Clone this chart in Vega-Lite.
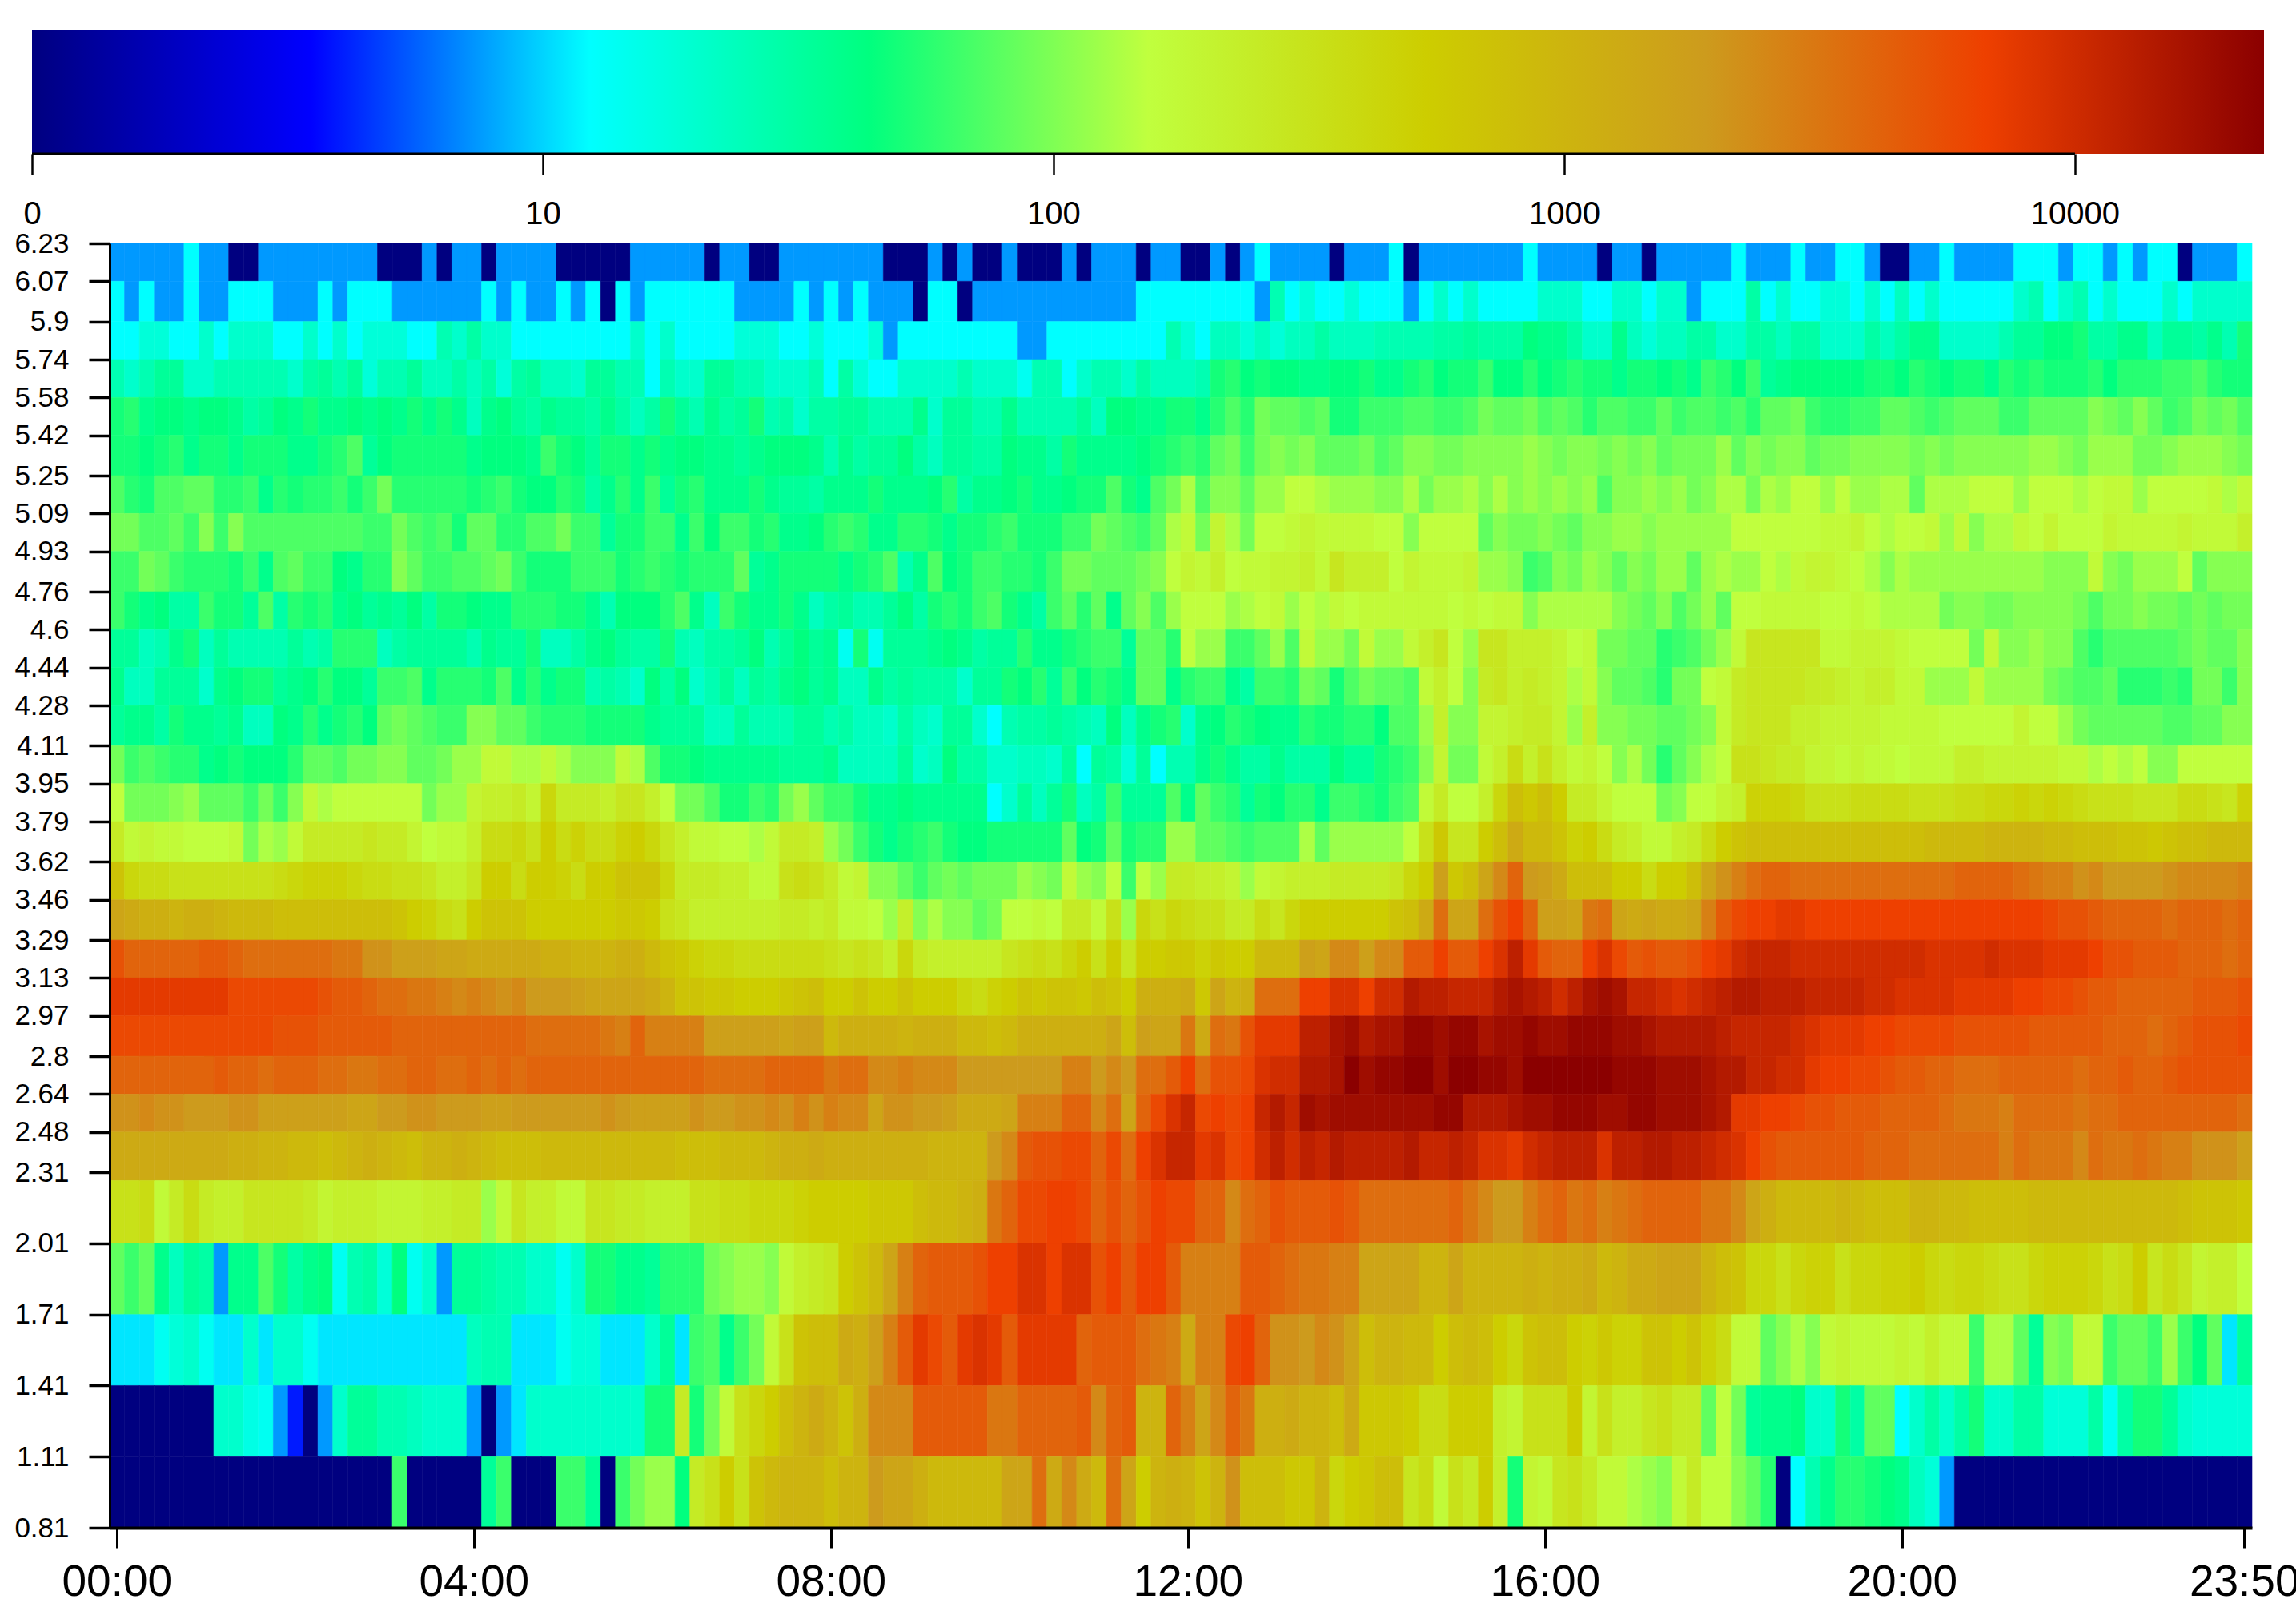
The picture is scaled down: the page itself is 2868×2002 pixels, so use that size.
{"$schema":"https://vega.github.io/schema/vega-lite/v6.json","width":2676,"height":1604,"autosize":"none","padding":{"left":137,"top":304,"right":55,"bottom":94},"background":"white","config":{"view":{"stroke":null}},"resolve":{"scale":{"x":"independent","y":"independent"},"axis":{"x":"independent","y":"independent"}},"layer":[{"data":{"values":[
{"lo":6.07,"hi":6.23,"level":[16,16,16,16,16,20,16,16,0,0,16,16,16,16,16,16,16,16,0,0,0,16,0,16,16,0,16,16,16,16,0,0,0,0,0,16,16,16,16,16,0,16,16,0,0,16,16,16,16,16,16,16,0,0,0,16,0,16,0,0,16,0,0,0,16,0,16,16,16,0,16,16,0,0,16,0,16,20,16,16,16,16,0,16,16,16,20,0,16,16,16,16,16,16,16,20,16,16,16,16,0,16,16,0,16,16,16,16,16,20,16,16,16,20,16,16,20,20,16,0,0,16,16,20,16,16,16,16,20,20,20,16,20,20,16,20,16,20,20,0,16,16,16,20]},
{"lo":5.9,"hi":6.07,"level":[20,16,20,16,16,20,16,16,20,20,20,16,16,16,20,16,20,20,20,16,16,16,16,16,16,20,16,20,16,16,20,16,20,0,20,16,20,20,20,20,20,20,16,16,16,16,20,16,20,16,20,16,16,16,0,20,20,0,16,16,16,16,16,16,16,16,16,16,16,20,20,20,20,20,20,20,20,16,26,20,23,20,20,23,20,20,20,16,20,24,20,24,20,20,20,20,24,24,24,20,20,24,24,20,24,24,16,20,20,20,27,20,24,20,20,23,23,20,24,20,25,20,24,20,20,20,20,20,24,26,20,24,26,20,24,20,20,20,24,20,24,24,24,24]},
{"lo":5.74,"hi":5.9,"level":[20,20,23,23,20,20,24,20,24,24,24,20,20,24,20,24,20,23,23,23,20,20,26,24,27,24,24,20,20,20,20,20,20,20,20,24,20,24,20,20,20,20,23,23,23,20,20,23,20,20,20,23,16,20,20,20,20,20,20,20,20,16,16,20,20,20,20,20,20,20,20,26,23,20,25,25,23,25,23,25,25,27,25,25,25,26,26,26,26,27,27,28,27,27,27,30,29,29,27,24,24,29,25,23,25,25,27,27,24,24,27,27,25,27,27,24,24,24,27,25,27,29,29,24,24,24,24,26,28,28,30,30,31,27,27,29,29,25,28,28,27,29,26,31]},
{"lo":5.58,"hi":5.74,"level":[26,24,26,28,28,24,24,26,26,26,26,26,24,27,28,26,28,23,26,26,28,25,25,27,25,27,23,27,28,25,25,24,28,28,26,26,20,26,24,24,28,28,26,26,24,24,24,26,20,27,23,20,20,24,24,24,24,26,24,24,24,21,26,26,20,24,26,26,24,27,25,25,25,26,31,32,30,31,30,30,29,29,30,30,31,29,29,31,32,30,31,31,33,30,30,32,30,31,32,31,31,29,31,31,30,31,29,33,32,30,33,28,29,30,30,30,30,30,31,31,30,32,31,30,31,31,29,32,31,32,31,31,31,32,30,32,32,32,33,33,34,32,31,31]},
{"lo":5.42,"hi":5.58,"level":[31,32,29,30,30,29,30,30,29,27,28,30,29,31,29,29,30,29,30,29,31,29,31,29,25,29,30,28,27,29,28,28,27,29,27,25,27,31,28,26,29,27,28,31,26,27,24,27,27,28,28,26,26,26,29,24,28,28,26,26,29,26,26,26,26,28,25,30,30,29,29,31,31,29,32,34,32,36,35,35,34,35,31,31,33,33,33,34,34,33,33,34,36,35,35,36,34,35,34,32,34,34,33,33,35,33,34,34,33,34,32,35,35,36,33,32,32,33,33,35,35,34,33,34,35,35,35,33,33,35,35,35,35,37,36,35,37,35,33,34,36,35,36,34]},
{"lo":5.25,"hi":5.42,"level":[31,31,30,31,32,29,31,31,29,31,31,31,29,29,31,32,34,28,30,31,31,31,31,31,29,30,30,30,29,33,31,30,28,31,31,29,31,29,30,30,29,29,28,29,30,30,30,29,26,29,27,28,28,30,27,25,28,28,27,27,30,29,29,27,31,29,29,29,29,30,31,32,33,32,35,36,33,36,37,36,37,35,35,35,36,34,35,37,37,36,36,37,37,37,37,38,37,36,37,37,36,37,36,37,35,36,36,36,38,35,37,36,37,37,35,36,36,37,37,37,37,36,37,36,37,37,37,37,37,38,38,37,36,38,38,38,36,36,37,38,38,38,37,36]},
{"lo":5.09,"hi":5.25,"level":[34,32,31,34,34,35,35,32,32,33,29,32,31,32,32,33,31,33,36,32,32,32,32,32,31,32,33,31,30,30,32,31,27,29,32,29,33,28,31,32,29,29,29,31,29,28,28,27,29,29,29,31,29,29,29,30,32,27,29,29,30,31,29,29,30,31,31,34,31,29,34,36,39,34,37,37,35,38,38,40,40,39,38,38,38,37,37,39,36,38,38,39,37,39,37,38,37,38,37,38,34,37,37,38,37,38,36,37,39,39,36,39,38,40,40,38,40,38,38,39,39,35,39,39,39,40,40,40,38,40,40,40,39,40,41,41,38,40,40,40,40,41,39,41]},
{"lo":4.93,"hi":5.09,"level":[36,36,34,34,35,33,37,33,37,34,34,34,34,34,34,34,34,33,33,36,34,33,34,31,35,35,32,32,34,34,36,33,33,28,31,31,33,33,29,33,30,33,33,31,32,29,29,30,32,33,32,29,29,32,32,31,29,31,31,32,33,31,31,31,33,33,36,35,34,33,35,39,41,36,42,39,36,40,40,41,42,41,41,41,41,40,40,37,40,40,40,40,35,37,36,36,37,36,35,37,37,38,38,37,38,38,38,38,38,40,40,40,40,40,40,41,41,42,40,39,40,40,41,38,41,37,39,39,41,40,42,40,40,40,42,41,41,41,41,42,41,41,41,43]},
{"lo":4.76,"hi":4.93,"level":[33,33,36,35,33,32,32,32,31,33,29,34,35,33,33,30,29,32,32,37,35,33,33,34,34,35,36,33,31,31,31,33,33,33,31,32,33,32,31,32,32,32,35,28,29,31,31,31,31,29,31,32,34,26,29,34,30,31,33,33,32,32,31,33,36,36,35,35,35,36,37,40,42,41,43,40,41,41,42,42,43,41,45,43,43,43,40,42,41,41,41,42,38,38,37,33,34,37,36,38,37,35,37,36,38,38,35,38,39,38,38,40,39,41,42,42,41,40,39,37,39,38,38,38,38,38,38,38,38,38,37,37,37,41,37,36,38,38,38,40,35,37,37,37]},
{"lo":4.6,"hi":4.76,"level":[33,31,29,30,27,27,33,31,31,28,34,27,32,31,32,29,30,28,29,28,30,27,31,31,30,29,29,32,32,32,31,31,29,26,30,30,30,32,34,29,25,33,31,29,29,31,29,25,27,28,26,26,28,30,27,31,32,31,33,34,31,29,27,33,35,32,35,29,35,37,34,38,40,40,40,38,39,40,41,38,40,39,41,40,41,41,41,41,41,41,40,41,40,41,41,37,39,39,39,39,39,37,36,35,37,34,36,38,35,40,40,41,41,41,41,40,40,41,40,39,39,39,39,36,37,37,36,36,37,37,37,37,36,34,36,36,37,36,36,35,36,35,36,36]},
{"lo":4.44,"hi":4.6,"level":[28,28,25,26,29,31,25,28,26,26,26,26,28,26,27,32,32,32,25,27,28,28,28,28,26,29,28,28,31,25,25,27,29,30,28,27,27,31,26,25,27,27,28,30,26,28,30,28,29,21,31,21,28,28,28,29,30,29,27,28,28,32,29,29,31,32,33,33,28,35,35,32,40,38,38,33,33,35,38,34,41,38,38,36,41,38,38,41,43,45,40,38,45,45,43,43,43,42,40,41,36,36,35,35,32,33,34,36,38,41,45,45,45,45,45,41,41,42,42,42,41,40,40,40,40,36,41,37,37,38,37,37,34,32,34,34,34,34,34,35,36,35,35,37]},
{"lo":4.28,"hi":4.44,"level":[29,25,25,28,28,28,24,29,30,31,31,28,29,30,32,30,30,28,33,33,34,29,32,32,32,31,34,29,32,29,31,31,26,27,26,24,30,27,30,24,26,28,25,28,27,29,30,28,29,25,25,29,27,28,27,27,27,24,28,28,31,30,32,28,33,30,32,31,29,35,35,29,32,33,33,29,27,33,33,32,36,35,31,34,36,35,35,34,41,43,40,37,44,45,43,44,43,42,39,41,37,35,35,34,32,36,36,40,41,44,45,45,45,45,44,44,43,42,43,43,41,41,38,38,38,41,38,38,38,38,36,35,34,34,35,32,32,32,33,32,36,36,33,37]},
{"lo":4.11,"hi":4.28,"level":[28,29,29,27,31,29,29,28,29,25,25,30,29,32,29,31,32,30,35,36,35,34,33,33,37,37,35,35,33,32,32,32,31,31,31,31,29,28,28,28,25,25,28,26,26,26,28,28,26,27,25,25,24,27,25,24,28,28,24,20,26,27,27,28,27,26,25,30,25,29,31,32,24,29,30,32,31,30,29,29,32,31,31,32,32,30,34,34,38,43,37,37,42,42,43,44,44,42,38,43,37,37,36,36,35,35,36,37,41,44,45,45,45,43,43,42,42,42,42,41,41,41,41,40,40,40,40,40,42,40,40,38,36,35,35,35,35,35,34,34,35,35,37,37]},
{"lo":3.95,"hi":4.11,"level":[36,33,34,33,32,32,29,30,31,30,30,30,32,35,35,34,36,36,37,37,35,35,36,38,38,41,41,39,39,41,39,37,37,37,41,39,34,31,31,30,29,29,29,29,29,28,28,28,29,25,25,25,25,28,24,25,30,27,27,24,24,25,25,24,28,20,28,27,23,28,20,26,26,29,31,29,27,27,29,27,27,27,30,28,28,31,32,33,37,42,36,36,41,43,47,43,46,43,41,42,40,37,39,36,32,35,37,39,40,46,46,45,44,44,42,42,41,42,41,41,40,41,41,41,43,43,42,42,42,42,42,41,41,39,40,39,40,37,37,40,40,40,40,40]},
{"lo":3.79,"hi":3.95,"level":[40,36,36,36,37,38,35,35,35,33,36,33,37,41,39,40,40,40,40,40,40,36,38,38,42,43,43,44,42,48,44,44,44,43,45,45,43,40,36,36,34,31,31,33,32,36,38,35,33,33,31,29,29,30,29,29,29,29,29,20,24,28,25,28,31,25,27,33,28,28,28,34,29,35,33,32,28,31,30,32,32,29,33,33,32,31,33,34,41,44,40,40,43,48,53,51,53,50,44,44,42,40,40,40,36,37,40,40,42,43,49,49,49,48,46,46,46,47,47,47,47,46,46,46,47,47,48,48,49,48,49,48,47,46,46,46,45,45,45,47,47,46,45,49]},
{"lo":3.62,"hi":3.79,"level":[44,41,42,41,41,40,40,40,41,36,39,38,41,44,44,44,44,45,44,44,42,40,41,41,43,47,47,48,46,50,47,49,47,47,49,50,48,45,43,41,41,40,40,39,41,44,44,43,38,36,33,31,29,31,32,33,31,30,30,31,31,31,31,31,35,30,31,35,31,32,32,38,38,35,35,34,33,34,34,34,39,35,38,38,38,38,38,40,46,51,45,45,50,53,57,54,54,52,49,50,47,44,43,41,41,43,44,47,50,52,53,53,53,53,53,53,53,53,53,53,53,53,54,54,54,54,55,55,55,55,54,54,53,53,53,52,52,51,52,53,53,54,54,54]},
{"lo":3.46,"hi":3.62,"level":[52,48,47,47,46,46,46,46,46,46,46,47,48,49,49,49,48,47,47,46,46,45,43,43,45,50,50,47,50,50,49,47,50,50,52,52,52,48,44,44,44,43,43,41,41,46,47,46,44,41,42,37,37,35,33,35,36,35,36,36,36,38,37,36,41,38,37,40,33,40,38,44,44,43,43,42,38,41,42,43,43,43,44,44,44,44,45,48,50,59,51,53,58,62,66,60,59,57,53,53,53,50,50,47,50,50,53,58,61,63,65,66,66,65,65,65,65,65,65,65,65,65,65,65,66,66,66,66,65,64,63,63,61,62,60,60,60,60,61,62,62,62,62,63]},
{"lo":3.29,"hi":3.46,"level":[58,57,56,56,55,56,56,55,54,54,54,53,53,53,53,53,53,53,53,52,50,49,47,46,50,52,52,52,50,50,50,50,50,50,51,51,50,46,45,43,43,43,43,43,43,44,44,43,44,41,41,40,38,43,37,39,37,37,35,36,40,40,41,40,44,44,41,46,38,48,46,48,47,46,46,44,44,47,45,48,50,50,50,50,50,50,52,53,57,65,58,58,65,68,70,66,59,59,58,64,65,58,57,58,57,57,58,63,67,69,70,70,71,71,70,70,70,70,70,70,70,70,70,70,70,70,70,70,70,70,69,68,68,67,66,66,66,66,65,66,66,66,65,66]},
{"lo":3.13,"hi":3.29,"level":[68,66,66,66,66,66,67,67,66,65,65,65,65,65,65,64,64,61,61,59,59,59,58,58,57,57,57,57,57,56,56,55,55,55,56,56,54,52,51,49,48,48,47,47,47,47,47,47,46,45,46,45,43,48,44,43,43,43,43,43,45,46,47,46,48,50,46,50,45,50,50,51,51,49,51,50,50,54,54,54,59,58,62,62,59,62,62,67,67,70,67,67,70,72,75,71,67,66,66,70,72,69,67,68,67,67,68,70,71,73,74,74,74,73,73,73,73,73,73,73,73,73,72,72,72,72,73,72,72,72,71,71,71,70,68,68,67,67,67,66,66,66,65,66]},
{"lo":2.97,"hi":3.13,"level":[71,71,71,71,71,71,71,71,69,69,69,69,69,69,68,67,67,66,65,65,64,64,63,62,63,62,61,62,60,60,60,59,58,58,58,58,57,55,52,52,51,51,50,50,50,51,52,53,50,50,52,50,50,52,50,50,50,48,47,49,50,52,51,52,52,51,53,52,50,56,56,56,57,51,58,55,56,65,65,65,70,70,72,72,70,73,73,76,75,75,74,74,74,76,77,76,75,73,75,77,78,77,74,74,73,72,73,74,75,76,76,75,75,75,74,74,74,74,73,73,72,72,72,72,71,71,71,71,70,70,69,69,68,67,67,66,66,66,66,66,67,67,67,68]},
{"lo":2.8,"hi":2.97,"level":[69,69,69,69,69,69,69,69,69,69,69,68,68,68,67,67,67,67,67,66,66,66,66,66,66,66,66,66,65,65,65,65,65,64,63,66,63,63,63,63,59,59,59,59,59,58,59,59,54,56,56,56,56,55,56,56,56,54,54,53,54,56,56,56,56,56,56,58,53,59,58,58,64,57,65,64,68,71,71,71,75,75,77,78,76,77,77,79,79,78,79,79,77,78,78,79,78,78,79,79,79,78,78,77,76,76,76,76,75,74,74,74,74,73,72,71,71,71,70,70,69,69,69,69,68,68,68,68,68,67,67,67,67,67,66,66,66,65,66,67,68,68,68,69]},
{"lo":2.64,"hi":2.8,"level":[66,66,66,66,66,66,66,67,66,66,65,66,66,66,65,65,64,64,65,65,66,66,65,65,66,65,66,65,66,66,66,66,66,66,66,66,66,66,66,66,65,65,65,65,66,66,66,66,64,65,65,62,62,63,62,62,62,60,60,60,60,60,60,60,63,63,60,62,60,65,65,67,70,65,68,68,69,72,73,73,76,76,77,80,78,79,79,80,80,78,80,80,79,79,78,80,80,80,80,80,80,79,79,79,78,78,78,77,76,76,74,74,73,73,71,70,70,69,69,68,67,67,66,66,65,65,65,66,66,66,66,66,65,66,66,67,66,66,67,68,68,68,68,68]},
{"lo":2.48,"hi":2.64,"level":[61,61,62,61,61,60,60,60,61,61,59,59,59,59,59,59,58,58,60,60,61,61,60,60,60,59,59,60,60,60,60,60,60,61,60,59,59,59,59,61,60,60,61,61,62,61,63,61,63,62,62,58,61,61,60,60,59,57,57,57,58,63,63,63,66,66,62,65,58,66,69,72,74,69,70,69,70,74,76,74,78,77,78,78,78,78,78,78,78,79,79,76,76,76,77,78,78,79,79,79,78,78,79,79,78,78,78,77,76,71,71,70,70,69,68,68,67,67,67,66,66,66,66,65,64,64,64,63,65,65,65,65,64,65,65,66,66,66,66,66,66,66,66,65]},
{"lo":2.275,"hi":2.48,"level":[57,57,57,57,57,57,57,57,56,56,55,55,54,54,53,54,55,56,55,54,53,55,55,56,55,54,53,53,53,54,54,54,54,54,54,54,54,54,53,53,53,54,54,54,55,56,56,57,56,56,56,56,56,56,56,55,55,55,55,60,62,67,68,68,69,69,66,69,65,70,72,74,74,71,72,69,70,73,75,73,75,74,76,75,75,75,75,76,74,74,75,74,72,72,71,73,74,75,75,75,72,75,75,76,76,75,75,74,73,72,70,68,67,67,67,67,67,67,66,66,66,65,65,65,65,65,65,63,65,64,64,64,62,65,64,64,65,64,63,63,61,61,61,59]},
{"lo":2.01,"hi":2.275,"level":[46,46,47,41,44,47,44,43,43,45,45,45,45,44,42,43,43,43,42,42,42,43,43,44,44,38,41,45,43,43,41,41,45,45,44,44,43,43,43,46,46,47,47,48,48,48,49,50,50,50,50,51,51,51,53,54,54,55,56,64,66,69,69,70,70,69,66,68,66,68,70,69,69,66,66,62,65,66,68,67,67,67,68,67,65,65,65,65,65,65,66,64,62,60,60,63,65,66,64,65,63,64,65,66,66,66,66,64,64,62,58,56,54,54,54,54,55,54,53,53,53,55,55,54,54,53,53,53,53,54,54,54,54,54,54,54,54,54,54,53,52,52,52,51]},
{"lo":1.71,"hi":2.01,"level":[35,33,35,29,25,28,27,16,29,29,34,31,27,29,30,21,26,27,23,30,21,24,16,28,28,27,26,26,24,24,21,24,31,31,29,29,28,32,32,32,36,37,38,38,37,41,43,44,45,50,52,54,58,63,66,67,67,67,68,70,70,72,72,70,72,72,68,70,67,70,70,67,63,63,63,63,67,67,66,65,64,64,63,63,58,58,58,58,55,55,58,55,55,55,55,56,55,56,56,57,54,55,57,57,58,58,58,55,53,52,48,48,46,48,49,49,46,48,48,49,49,50,48,47,48,48,47,46,46,48,49,49,49,48,46,47,50,45,47,45,42,43,43,40]},
{"lo":1.41,"hi":1.71,"level":[19,19,19,21,23,24,21,19,19,24,19,24,24,21,19,19,19,19,19,19,19,19,19,19,25,26,26,19,19,19,21,23,23,19,19,19,24,28,19,33,34,29,33,36,41,46,52,53,53,57,56,59,63,67,71,69,67,71,72,71,67,71,71,71,71,66,67,67,67,65,64,63,57,63,63,69,70,66,61,61,60,62,61,58,53,55,55,54,54,50,53,54,53,50,48,52,53,53,50,49,51,49,49,52,52,50,52,49,47,41,41,35,37,39,37,41,42,41,41,41,42,41,43,41,41,33,39,39,35,28,37,36,41,41,33,35,35,33,38,33,30,35,19,28]},
{"lo":1.11,"hi":1.41,"level":[0,0,0,0,0,0,0,24,24,22,21,16,11,0,16,24,28,28,26,26,25,24,24,24,16,0,16,19,24,24,24,24,24,24,24,24,31,31,44,31,36,41,46,48,50,53,55,57,55,52,56,62,62,62,67,67,67,67,67,64,64,66,66,66,66,67,62,66,67,55,55,66,63,58,62,66,64,56,56,57,55,55,53,57,51,51,51,50,47,47,50,50,50,43,42,46,46,46,50,42,46,43,43,45,46,44,44,35,40,36,28,29,29,30,24,24,31,27,35,35,20,24,27,24,27,31,24,24,27,27,23,23,23,27,21,27,31,31,28,24,23,23,23,23]},
{"lo":0.81,"hi":1.11,"level":[0,0,0,0,0,0,0,0,0,0,0,0,0,0,0,0,0,0,0,33,0,0,0,0,0,28,33,0,0,0,33,33,28,0,33,36,38,38,30,44,46,50,46,52,54,55,55,55,53,55,55,60,58,58,56,54,54,54,54,54,58,58,65,57,62,57,54,65,58,50,55,56,55,52,55,61,53,53,53,51,51,55,48,50,51,53,53,45,47,41,46,44,50,43,31,42,41,45,46,44,41,41,39,38,37,41,44,40,40,37,35,32,0,20,26,29,32,32,31,30,29,25,23,16,0,0,0,0,0,0,0,0,0,0,0,0,0,0,0,0,0,0,0,0]}
]},"transform":[{"flatten":["level"]},{"window":[{"op":"row_number","as":"slot"}],"groupby":["lo"]}],"mark":{"type":"rect","strokeWidth":0.6},"encoding":{"x":{"field":"slot","type":"ordinal","scale":{"paddingInner":0,"paddingOuter":0},"axis":{"values":[1,25,49,73,97,121,144],"labelExpr":"{1:'00:00',25:'04:00',49:'08:00',73:'12:00',97:'16:00',121:'20:00',144:'23:50'}[datum.value]","title":null,"labelAngle":0,"labelFont":"Liberation Sans","labelFontSize":55,"labelColor":"black","labelPadding":16,"labelOverlap":false,"labelBound":false,"labelFlush":false,"ticks":true,"tickSize":25,"tickWidth":3,"tickColor":"black","domain":true,"domainColor":"black","domainWidth":4,"grid":false,"zindex":1}},"y":{"field":"lo","type":"quantitative","scale":{"domain":[0.81,6.23],"nice":false,"zero":false},"axis":{"values":[0.81,1.11,1.41,1.71,2.01,2.31,2.48,2.64,2.8,2.97,3.13,3.29,3.46,3.62,3.79,3.95,4.11,4.28,4.44,4.6,4.76,4.93,5.09,5.25,5.42,5.58,5.74,5.9,6.07,6.23],"format":".3~g","title":null,"labelFont":"Liberation Sans","labelFontSize":35,"labelColor":"black","labelPadding":25,"labelOverlap":false,"labelBound":false,"labelFlush":false,"ticks":true,"tickSize":26,"tickWidth":3.5,"tickColor":"black","domain":true,"domainColor":"black","domainWidth":3,"grid":false,"zindex":1}},"y2":{"field":"hi"},"color":{"field":"level","type":"quantitative","legend":null,"scale":{"domain":[0,10,20,30,40,50,60,70,80],"range":["#000080","#0000FF","#00FFFF","#00FF7F","#C0FF3E","#CDCD00","#CD9B1D","#EE4000","#8B0000"],"interpolate":"rgb"}},"stroke":{"field":"level","type":"quantitative","legend":null,"scale":{"domain":[0,10,20,30,40,50,60,70,80],"range":["#000080","#0000FF","#00FFFF","#00FF7F","#C0FF3E","#CDCD00","#CD9B1D","#EE4000","#8B0000"],"interpolate":"rgb"}}}},
{"layer":[{"data":{"values":[{"lg0":0,"lg1":4.37,"b0":0,"b1":1}]},"mark":{"type":"rect","color":{"gradient":"linear","x1":0,"x2":1,"y1":0,"y2":0,"stops":[{"offset":0,"color":"#000080"},{"offset":0.125,"color":"#0000FF"},{"offset":0.25,"color":"#00FFFF"},{"offset":0.375,"color":"#00FF7F"},{"offset":0.5,"color":"#C0FF3E"},{"offset":0.625,"color":"#CDCD00"},{"offset":0.75,"color":"#CD9B1D"},{"offset":0.875,"color":"#EE4000"},{"offset":1,"color":"#8B0000"}]}},"encoding":{"x":{"field":"lg0","type":"quantitative","scale":{"domain":[0,4.37],"range":[-97,2691],"nice":false,"zero":false},"axis":{"orient":"bottom","offset":-1716,"values":[0,1,2,3,4],"labelExpr":"{0:'0',1:'10',2:'100',3:'1000',4:'10000'}[datum.value]","title":null,"domain":false,"grid":false,"labelFont":"Liberation Sans","labelFontSize":40,"labelColor":"black","labelPadding":29,"labelOverlap":false,"labelBound":false,"labelFlush":false,"ticks":true,"tickSize":26,"tickWidth":2.5,"tickColor":"black"}},"x2":{"field":"lg1"},"y":{"field":"b0","type":"quantitative","scale":{"domain":[0,1],"range":[-112,-266],"nice":false,"zero":false},"axis":null},"y2":{"field":"b1"}}},{"data":{"values":[{"lg0":0,"lg1":4,"b0":0}]},"mark":{"type":"rule","color":"black","strokeWidth":3},"encoding":{"x":{"field":"lg0","type":"quantitative"},"x2":{"field":"lg1"},"y":{"field":"b0","type":"quantitative"}}}]}]}
